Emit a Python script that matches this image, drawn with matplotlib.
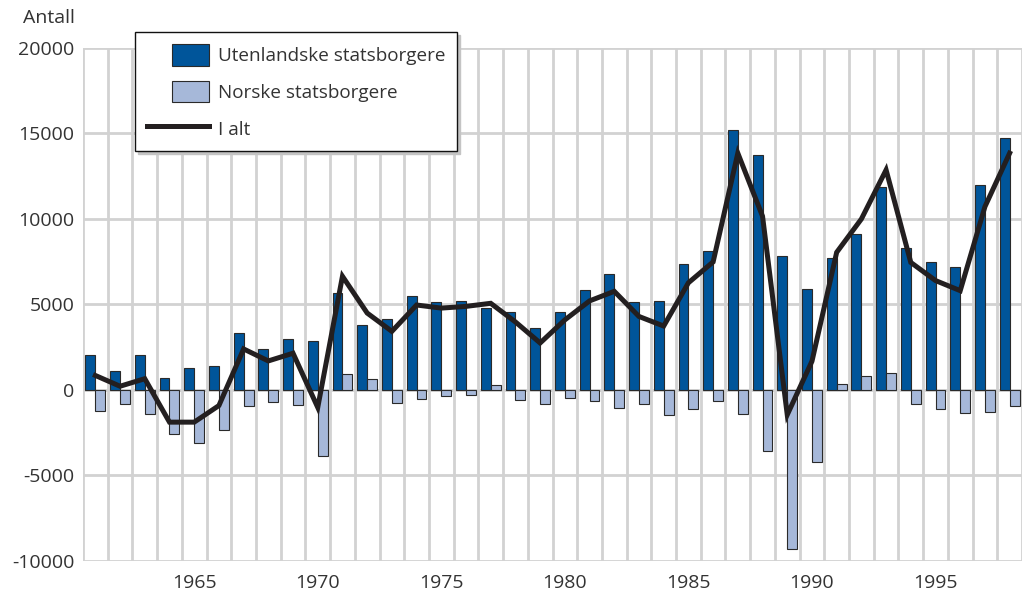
import matplotlib
matplotlib.use("Agg")
import matplotlib.pyplot as plt
from matplotlib.patches import Patch, Rectangle
from matplotlib.lines import Line2D
from matplotlib.legend_handler import HandlerPatch

plt.rcParams['font.family'] = ['Open Sans', 'DejaVu Sans']
plt.rcParams['axes.unicode_minus'] = False

years = list(range(1961, 1999))

# utenlandske statsborgere (foreign citizens), net
utenlandske = [2070, 1090, 2050, 720, 1270, 1405, 3320, 2380, 2990, 2890,
               5700, 3810, 4180, 5510, 5120, 5200, 4770, 4550, 3610, 4550,
               5820, 6780, 5140, 5230, 7380, 8120, 15200, 13750, 7830, 5920,
               7730, 9120, 11870, 8300, 7500, 7190, 11990, 14740]

# norske statsborgere (Norwegian citizens), net
norske = [-1210, -840, -1410, -2580, -3125, -2345, -940, -680, -880, -3870,
          955, 625, -745, -545, -330, -290, 270, -585, -840, -450,
          -625, -1035, -840, -1465, -1130, -645, -1425, -3590, -9270, -4220,
          330, 840, 975, -840, -1130, -1370, -1310, -920]

# i alt (total)
i_alt = [850, 220, 660, -1880, -1880, -910, 2400, 1700, 2150, -1020,
         6650, 4500, 3430, 4970, 4790, 4890, 5070, 3980, 2750, 4100,
         5210, 5770, 4300, 3740, 6270, 7490, 13850, 10160, -1450, 1680,
         8050, 10000, 12870, 7460, 6400, 5810, 10720, 13850]

dark_blue = '#00559a'
light_blue = '#a6b8d9'
grid_col = '#d2d2d2'
text_col = '#333333'

fig = plt.figure(figsize=(10.28, 5.92), dpi=100)
ax = fig.add_axes([83 / 1028, 1 - 561 / 592, 939 / 1028, 513 / 592])

ax.bar([y - 0.4 for y in years], utenlandske, width=0.4, align='edge',
       color=dark_blue, edgecolor='#2a2a2a', linewidth=0.8, zorder=3)
ax.bar(years, norske, width=0.4, align='edge',
       color=light_blue, edgecolor='#2a2a2a', linewidth=0.8, zorder=3)
ax.plot(years, i_alt, color='#231f20', linewidth=3.6, zorder=4,
        solid_joinstyle='miter')

ax.set_xlim(1960.5, 1998.5)
ax.set_ylim(-10000, 20000)
ax.set_yticks(range(-10000, 20001, 5000))
ax.set_xticks(range(1965, 1996, 5))
ax.set_xticks([y + 0.5 for y in range(1960, 1999)], minor=True)
ax.tick_params(axis='both', which='both', length=0, labelsize=14,
               labelcolor=text_col)
ax.tick_params(axis='y', pad=6)
ax.tick_params(axis='x', pad=9)
ax.grid(True, axis='x', which='minor', color=grid_col, linewidth=2.0, zorder=0)
ax.grid(True, axis='y', which='major', color=grid_col, linewidth=2.0, zorder=0)
for s in ax.spines.values():
    s.set_visible(False)

fig.text(75 / 1028, 1 - 18 / 592, 'Antall', ha='right', va='center',
         fontsize=14, color=text_col)


def patch_right(legend, orig_handle, xdescent, ydescent, width, height, fontsize):
    w = 37 * 72 / 100.0
    return Rectangle((-xdescent + width - w, -ydescent), w, height)


handles = [Patch(facecolor=dark_blue, edgecolor='#2a2a2a', linewidth=0.8),
           Patch(facecolor=light_blue, edgecolor='#2a2a2a', linewidth=0.8),
           Line2D([0], [0], color='#231f20', linewidth=3.6)]
labels = ['Utenlandske statsborgere', 'Norske statsborgere', 'I alt']
leg = ax.legend(handles, labels, loc='upper left',
                bbox_to_anchor=((135 - 83) / 939, 1 + 16 / 513),
                borderaxespad=0, fontsize=13.6, frameon=True, fancybox=False,
                edgecolor='#111111', framealpha=1,
                shadow={'color': '#c4c4c4', 'alpha': 1},
                handlelength=3.3, handleheight=1.4, handletextpad=0.45,
                labelspacing=0.8, borderpad=0.62,
                handler_map={Patch: HandlerPatch(patch_func=patch_right)})
leg.get_frame().set_linewidth(1.0)
leg.set_zorder(6)
for t in leg.get_texts():
    t.set_color(text_col)

fig.savefig('out.png', dpi=100)
